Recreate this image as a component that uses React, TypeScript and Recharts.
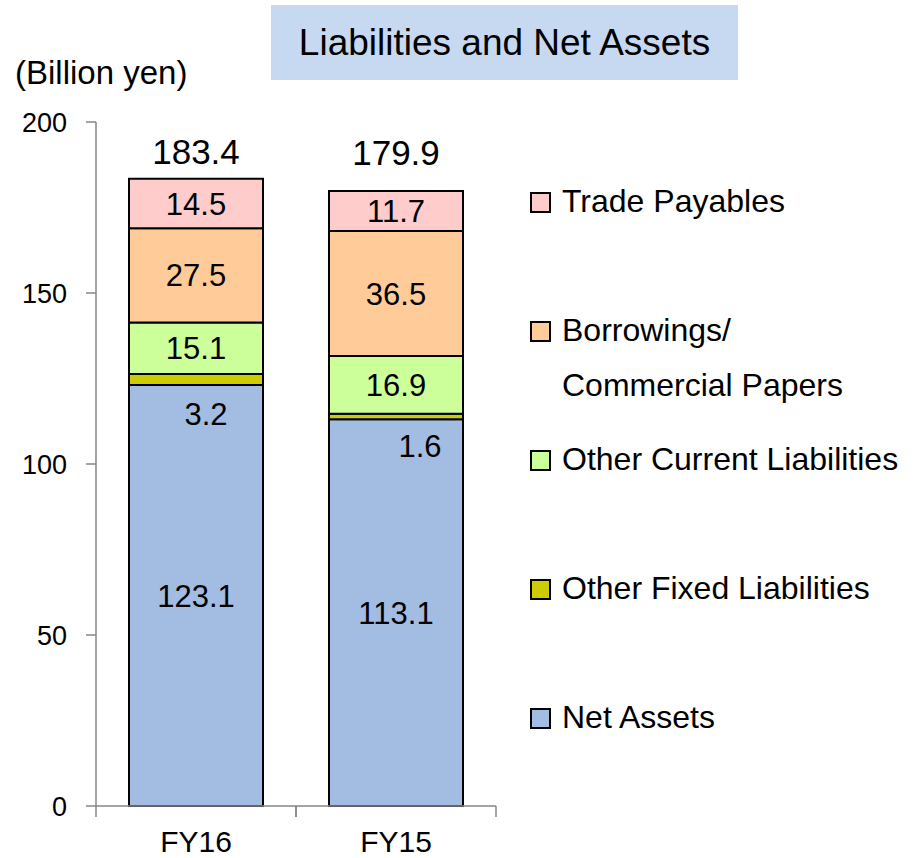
import { Bar, BarChart, LabelList, Legend, XAxis, YAxis } from "recharts";

const CATEGORIES = ["FY16", "FY15"];
const NET_ASSETS = [123.1, 113.1];
const OTHER_FIXED = [3.2, 1.6];
const OTHER_CURRENT = [15.1, 16.9];
const BORROWINGS = [27.5, 36.5];
const TRADE_PAYABLES = [14.5, 11.7];
const TOTALS = ["183.4", "179.9"];
const Y_TICKS = [0, 50, 100, 150, 200];

const SERIES = [
  { key: "netAssets", name: "Net Assets", color: "#A3BCE2", lines: ["Net Assets"] },
  { key: "otherFixed", name: "Other Fixed Liabilities", color: "#CCCC00", lines: ["Other Fixed Liabilities"] },
  { key: "otherCurrent", name: "Other Current Liabilities", color: "#CCFF99", lines: ["Other Current Liabilities"] },
  { key: "borrowings", name: "Borrowings/ Commercial Papers", color: "#FFCC99", lines: ["Borrowings/", "Commercial Papers"] },
  { key: "tradePayables", name: "Trade Payables", color: "#FFCCCC", lines: ["Trade Payables"] },
];

const FONT = "'Liberation Sans', Arial, sans-serif";
const AXIS_COLOR = "#868686";

const data = CATEGORIES.map((name, i) => ({
  name,
  netAssets: NET_ASSETS[i],
  otherFixed: OTHER_FIXED[i],
  otherCurrent: OTHER_CURRENT[i],
  borrowings: BORROWINGS[i],
  tradePayables: TRADE_PAYABLES[i],
}));

function XTick(props: any) {
  const { x, y, payload } = props;
  const half = payload?.offset ?? 100;
  return (
    <g>
      <line x1={x - half} x2={x - half} y1={y} y2={y + 11} stroke={AXIS_COLOR} strokeWidth={1.5} />
      <line x1={x + half} x2={x + half} y1={y} y2={y + 11} stroke={AXIS_COLOR} strokeWidth={1.5} />
      <text x={x} y={y + 35} textAnchor="middle" dominantBaseline="central" fontSize={30} fill="#000" fontFamily={FONT}>
        {payload.value}
      </text>
    </g>
  );
}

// small nudges for the thin "Other Fixed" labels, which sit below their segment
const FIXED_NUDGE = [
  { dx: 10, dy: 35 },
  { dx: 24, dy: 30 },
];
const TOTAL_Y_GAP = [27, 39];

function FixedLabel(props: any) {
  const { x, y, width, height, value, index } = props;
  const n = FIXED_NUDGE[index] ?? { dx: 0, dy: 0 };
  return (
    <text
      x={x + width / 2 + n.dx}
      y={y + height / 2 + n.dy}
      textAnchor="middle"
      dominantBaseline="central"
      fontSize={31}
      fill="#000"
      fontFamily={FONT}
    >
      {value}
    </text>
  );
}

function TotalLabel(props: any) {
  const { x, y, width, index } = props;
  return (
    <text
      x={x + width / 2}
      y={y - TOTAL_Y_GAP[index]}
      textAnchor="middle"
      dominantBaseline="central"
      fontSize={35}
      fill="#000"
      fontFamily={FONT}
    >
      {TOTALS[index]}
    </text>
  );
}

function LegendBox() {
  const items = [...SERIES].reverse();
  return (
    <div style={{ position: "relative", width: 380, height: 600, fontFamily: FONT, fontSize: 32, color: "#000" }}>
      {items.map((s, i) => (
        <div key={s.key} style={{ position: "absolute", left: 0, top: i * 129, lineHeight: "36px" }}>
          <span
            style={{
              position: "absolute",
              left: 0,
              top: 9,
              width: 17,
              height: 17,
              background: s.color,
              border: "2px solid #000",
            }}
          />
          <div style={{ marginLeft: 32, whiteSpace: "nowrap" }}>
            {s.lines.map((ln, j) => (
              <div key={ln} style={{ marginTop: j > 0 ? 19 : 0 }}>
                {ln}
              </div>
            ))}
          </div>
        </div>
      ))}
    </div>
  );
}

export default function App() {
  return (
    <div style={{ position: "absolute", left: 0, top: 0, width: 915, height: 858, background: "#fff", fontFamily: FONT }}>
      <div
        style={{
          position: "absolute",
          left: 271,
          top: 5,
          width: 467,
          height: 75,
          background: "#C6D9F1",
          fontSize: 37,
          lineHeight: "75px",
          textAlign: "center",
          color: "#000",
        }}
      >
        Liabilities and Net Assets
      </div>
      <div style={{ position: "absolute", left: 15, top: 54, fontSize: 33, lineHeight: "38px", color: "#000" }}>
        (Billion yen)
      </div>
      <BarChart
        width={915}
        height={858}
        data={data}
        margin={{ top: 122, right: 419, bottom: 0, left: 0 }}
        barCategoryGap="16.5%"
      >
        <XAxis
          dataKey="name"
          height={52}
          stroke={AXIS_COLOR}
          strokeWidth={1.5}
          tickLine={false}
          tickSize={0}
          tickMargin={0}
          tick={<XTick />}
        />
        <YAxis
          width={96}
          domain={[0, 200]}
          ticks={Y_TICKS}
          interval={0}
          stroke={AXIS_COLOR}
          strokeWidth={1.5}
          tickSize={10}
          tickMargin={19}
          tick={{ fontSize: 27, fill: "#000", fontFamily: FONT }}
        />
        <Legend
          layout="vertical"
          align="center"
          verticalAlign="middle"
          wrapperStyle={{ left: 530, top: 183, width: 380 }}
          content={() => <LegendBox />}
        />
        {SERIES.map((s) => (
          <Bar
            key={s.key}
            dataKey={s.key}
            name={s.name}
            stackId="a"
            fill={s.color}
            stroke="#000"
            strokeWidth={2}
            isAnimationActive={false}
          >
            {s.key === "otherFixed" ? (
              <LabelList dataKey={s.key} content={<FixedLabel />} />
            ) : (
              <LabelList dataKey={s.key} position="center" fontSize={31} fill="#000" fontFamily={FONT} />
            )}
            {s.key === "tradePayables" && <LabelList dataKey={s.key} content={<TotalLabel />} />}
          </Bar>
        ))}
      </BarChart>
    </div>
  );
}
